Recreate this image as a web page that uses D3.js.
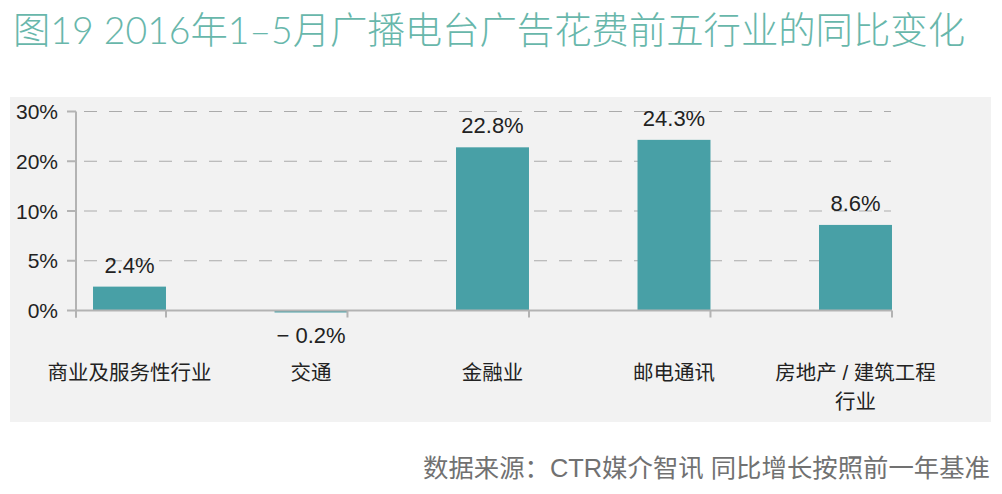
<!DOCTYPE html>
<html>
<head>
<meta charset="utf-8">
<script src="https://cdn.jsdelivr.net/npm/d3@7"></script>
<style>
    body { margin: 0; background: #fff; }
    svg { display: block; }
</style>
</head>
<body>
<svg id="chart"></svg>
<script>
// chart data
var categories = ['商业及服务性行业', '交通', '金融业', '邮电通讯', '房地产 / 建筑工程\n行业'];
var values = [2.4, -0.2, 22.8, 24.3, 8.6];
var yTicks = [0, 5, 10, 20, 30];
var titleText = '图19 2016年1–5月广播电台广告花费前五行业的同比变化';
var sourceText = '数据来源：CTR媒介智讯 同比增长按照前一年基准';

var width = 1002,
    height = 494,
    plotLeft = 76,
    plotRight = 891,
    plotTop = 111.5,
    plotBottom = 310.5;

var svg = d3.select('#chart')
    .attr('width', width)
    .attr('height', height);

svg.append('rect')
    .attr('width', width)
    .attr('height', height)
    .attr('fill', '#fff');

// grey panel behind the chart
svg.append('rect')
    .attr('x', 10)
    .attr('y', 97)
    .attr('width', 981)
    .attr('height', 325)
    .attr('fill', '#f2f2f2');

// title + source note
svg.append('text')
    .attr('x', 13)
    .attr('y', 44)
    .attr('font-family', 'Lato, "Noto Sans CJK SC", sans-serif')
    .attr('font-size', '37px')
    .attr('font-weight', 300)
    .attr('fill', '#68b7ab')
    .attr('textLength', 952)
    .attr('lengthAdjust', 'spacingAndGlyphs')
    .text(titleText);

svg.append('text')
    .attr('x', 990)
    .attr('y', 477)
    .attr('text-anchor', 'end')
    .attr('font-family', '"Liberation Sans", "Noto Sans CJK SC", sans-serif')
    .attr('font-size', '25px')
    .attr('fill', '#717171')
    .attr('textLength', 567)
    .attr('lengthAdjust', 'spacingAndGlyphs')
    .text(sourceText);

// axis ticks are evenly spaced although the values are not
var y = d3.scaleLinear()
    .domain(yTicks)
    .range(yTicks.map((d, i) => plotBottom - i * (plotBottom - plotTop) / (yTicks.length - 1)));

var x = d3.scaleBand()
    .domain(categories)
    .range([38.75, 946.25])
    .paddingInner(0.598)
    .paddingOuter(0.299);

var chart = svg.append('g');

// dashed grid lines
chart.append('g')
    .selectAll('line')
    .data(yTicks.filter(d => d !== 0))
    .join('line')
    .attr('x1', plotLeft)
    .attr('x2', plotRight)
    .attr('y1', d => y(d))
    .attr('y2', d => y(d))
    .attr('stroke', '#ababab')
    .attr('stroke-width', 1.2)
    .attr('stroke-dasharray', '13,12')
    .attr('stroke-dashoffset', -8);

// bars
chart.append('g')
    .selectAll('rect')
    .data(values)
    .join('rect')
    .attr('x', (d, i) => x(categories[i]))
    .attr('width', x.bandwidth())
    .attr('y', d => Math.min(y(d), y(0)))
    .attr('height', d => Math.abs(y(d) - y(0)))
    .attr('fill', '#48a0a6');

// y axis
var yAxis = chart.append('g');
yAxis.append('line')
    .attr('x1', plotLeft)
    .attr('x2', plotLeft)
    .attr('y1', y(30))
    .attr('y2', y(0) + 7)
    .attr('stroke', '#b3b3b3')
    .attr('stroke-width', 2);
yAxis.selectAll('.tick')
    .data(yTicks)
    .join('line')
    .attr('class', 'tick')
    .attr('x1', plotLeft - 9)
    .attr('x2', plotLeft)
    .attr('y1', d => y(d))
    .attr('y2', d => y(d))
    .attr('stroke', '#b3b3b3')
    .attr('stroke-width', 2);
yAxis.selectAll('text')
    .data(yTicks)
    .join('text')
    .attr('x', 58)
    .attr('y', d => y(d))
    .attr('dy', '0.36em')
    .attr('text-anchor', 'end')
    .attr('font-family', '"Liberation Sans", Arial, sans-serif')
    .attr('font-size', '21px')
    .attr('fill', '#222')
    .text(d => d + '%');

// x axis
var xAxis = chart.append('g');
xAxis.append('line')
    .attr('x1', plotLeft)
    .attr('x2', plotRight + 1)
    .attr('y1', y(0))
    .attr('y2', y(0))
    .attr('stroke', '#b3b3b3')
    .attr('stroke-width', 2);
xAxis.selectAll('.tick')
    .data([plotLeft].concat(categories.map(c => x(c) + x.bandwidth())))
    .join('line')
    .attr('class', 'tick')
    .attr('x1', d => d)
    .attr('x2', d => d)
    .attr('y1', y(0))
    .attr('y2', y(0) + 7)
    .attr('stroke', '#b3b3b3')
    .attr('stroke-width', 2);

// value labels
chart.append('g')
    .selectAll('text')
    .data(values)
    .join('text')
    .attr('x', (d, i) => x(categories[i]) + x.bandwidth() / 2)
    .attr('y', d => d < 0 ? y(d) + 31 : y(d) - 14)
    .attr('text-anchor', 'middle')
    .attr('font-family', '"Liberation Sans", Arial, sans-serif')
    .attr('font-size', '22px')
    .attr('fill', '#222')
    .text(d => d < 0 ? '− ' + Math.abs(d).toFixed(1) + '%' : d.toFixed(1) + '%');

// category labels, may wrap to two lines
chart.append('g')
    .selectAll('text')
    .data(categories)
    .join('text')
    .attr('x', d => x(d) + x.bandwidth() / 2)
    .attr('y', 380)
    .attr('text-anchor', 'middle')
    .attr('font-family', '"Liberation Sans", "Noto Sans CJK SC", sans-serif')
    .attr('font-size', '20.5px')
    .attr('fill', '#222')
    .each(function(d) {
        var lines = d.split('\n');
        d3.select(this)
            .selectAll('tspan')
            .data(lines)
            .join('tspan')
            .attr('x', x(d) + x.bandwidth() / 2)
            .attr('dy', (l, i) => i === 0 ? 0 : 29)
            .text(l => l);
    });
</script>
</body>
</html>
